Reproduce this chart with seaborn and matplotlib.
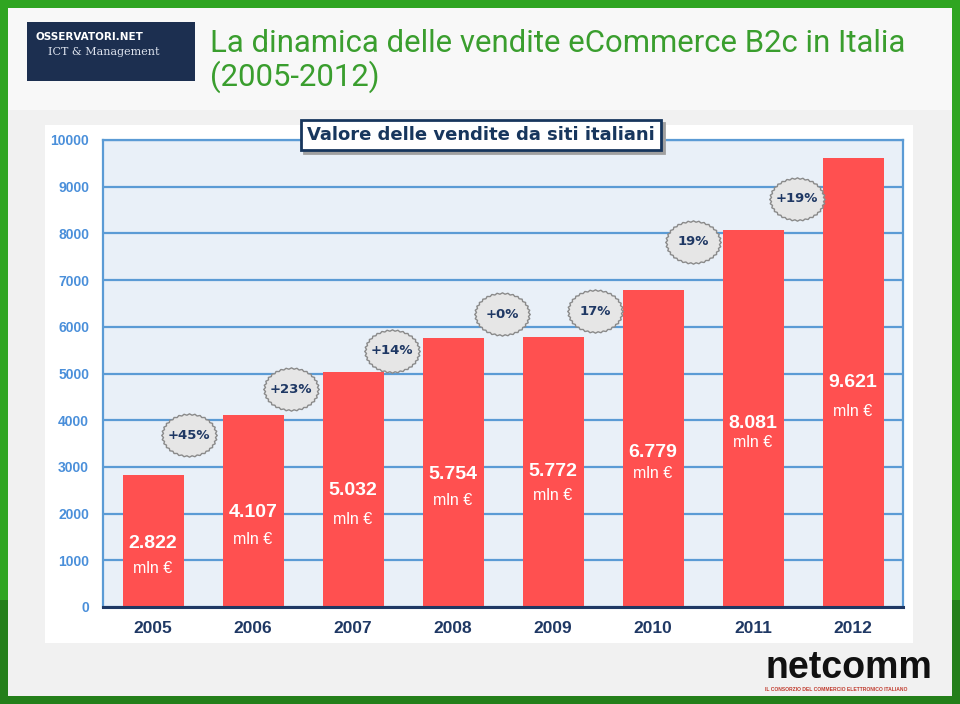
import numpy as np
import pandas as pd
import matplotlib
matplotlib.use("Agg")
import matplotlib.pyplot as plt
from matplotlib.path import Path
from matplotlib.patches import Rectangle
import seaborn as sns

# ---------------- data ----------------
years = ["2005", "2006", "2007", "2008", "2009", "2010", "2011", "2012"]
sales = [2822, 4107, 5032, 5754, 5772, 6779, 8081, 9621]
value_labels = ["2.822", "4.107", "5.032", "5.754", "5.772", "6.779", "8.081", "9.621"]
growth_labels = ["+45%", "+23%", "+14%", "+0%", "17%", "19%", "+19%"]
y_ticks = [0, 1000, 2000, 3000, 4000, 5000, 6000, 7000, 8000, 9000, 10000]

title_l1 = "La dinamica delle vendite eCommerce B2c in Italia"
title_l2 = "(2005-2012)"
legend_text = "Valore delle vendite da siti italiani"

# ---------------- layout (positions only) ----------------
label_y = [1370, 2013, 2484, 2827, 2912, 3298, 3940, 4797]
unit_y = [814, 1456, 1884, 2270, 2377, 2848, 3533, 4197]
badge_x = [0.36, 1.38, 2.39, 3.49, 4.42, 5.40, 6.44]
badge_y = [3683, 4668, 5482, 6274, 6338, 7816, 8737]

BAR = "#FF5050"
GRID = "#5B9BD5"
NAVY = "#1F3864"
TICKBLUE = "#4A8FDA"

sns.set_theme(style="white")
plt.rcParams["font.family"] = ["DejaVu Sans"]

W, H = 960, 704
fig = plt.figure(figsize=(9.6, 7.04), dpi=100)

def px_rect(x0, y0, x1, y1, z=0, **kw):
    r = Rectangle((x0 / W, 1 - y1 / H), (x1 - x0) / W, (y1 - y0) / H,
                  transform=fig.transFigure, zorder=z, **kw)
    fig.patches.append(r)
    return r

# frame / background
px_rect(0, 0, 960, 704, facecolor="#2FA521", edgecolor="none")
px_rect(0, 600, 960, 704, facecolor="#247F1A", edgecolor="none")
px_rect(8, 8, 952, 696, facecolor="#F1F1F1", edgecolor="none")
px_rect(8, 8, 952, 110, facecolor="#F8F8F8", edgecolor="none")
px_rect(45, 125, 913, 643, facecolor="white", edgecolor="none")

# Osservatori logo
px_rect(27, 22, 195, 81, z=1, facecolor="#1C2F50", edgecolor="none")
fig.text(36 / W, 1 - 40 / H, "OSSERVATORI.NET", color="white", fontsize=7.5,
         fontweight="bold", family="DejaVu Sans", va="baseline", zorder=2)
fig.text(48 / W, 1 - 55 / H, "ICT & Management", color="#DDE3EE", fontsize=8,
         family="DejaVu Serif", va="baseline", zorder=2)

# title
fig.text(210 / W, 1 - 52 / H, title_l1, color="#3A9E2E", fontsize=22.4,
         family="Roboto", va="baseline")
fig.text(210 / W, 1 - 86 / H, title_l2, color="#3A9E2E", fontsize=22.4,
         family="Roboto", va="baseline")

# netcomm logo
fig.text(765 / W, 1 - 678 / H, "netcomm", color="#111111", fontsize=27,
         family="Liberation Sans", fontweight="bold", va="baseline")
fig.text(765 / W, 1 - 691 / H, "IL CONSORZIO DEL COMMERCIO ELETTRONICO ITALIANO",
         color="#C0392B", fontsize=3.6, family="Liberation Sans",
         fontweight="bold", va="baseline")

# ---------------- chart ----------------
ax = fig.add_axes([103 / W, 1 - 607 / H, 800 / W, 467 / H])
ax.set_zorder(5)
ax.set_facecolor("#E9F0F8")
df = pd.DataFrame({"year": years, "sales": sales})
sns.barplot(data=df, x="year", y="sales", color=BAR, saturation=1,
            width=0.61, ax=ax, zorder=3, linewidth=0, edgecolor="none")

ax.set_xlim(-0.5, 7.5)
ax.set_ylim(0, 10000)
ax.set_yticks(y_ticks)
ax.set_yticklabels([str(t) for t in y_ticks])
ax.set_xlabel("")
ax.set_ylabel("")
ax.yaxis.grid(True, color=GRID, linewidth=1.6, zorder=1)
ax.set_axisbelow(True)
for side in ["left", "top", "right"]:
    ax.spines[side].set_color(GRID)
    ax.spines[side].set_linewidth(1.6)
ax.spines["bottom"].set_color(NAVY)
ax.spines["bottom"].set_linewidth(2.2)
ax.spines["bottom"].set_zorder(5)

ax.tick_params(axis="y", colors=GRID, length=4, width=1.4, pad=6,
               labelcolor=TICKBLUE)
for lab in ax.get_yticklabels():
    lab.set_fontweight("bold")
    lab.set_family("Liberation Sans")
    lab.set_fontsize(10)
ax.set_xticks(range(len(years)))
ax.set_xticks(np.arange(-0.5, len(years), 1.0), minor=True)
ax.tick_params(axis="x", which="major", length=0, pad=10, labelcolor=NAVY)
ax.tick_params(axis="x", which="minor", length=6, width=2, color=NAVY,
               direction="out")
for lab in ax.get_xticklabels():
    lab.set_fontweight("bold")
    lab.set_family("Liberation Sans")
    lab.set_fontsize(12.5)

# value labels in bars
for i, (vl, ly, uy) in enumerate(zip(value_labels, label_y, unit_y)):
    ax.text(i, ly, vl, color="white", fontsize=14, fontweight="bold",
            family="Liberation Sans", ha="center", va="center", zorder=6)
    ax.text(i, uy, "mln \u20ac", color="white", fontsize=11.5,
            family="Liberation Sans", ha="center", va="center", zorder=6)

# scalloped badges
n = 64
t = np.linspace(0, 2 * np.pi, n, endpoint=False)
r = np.where(np.arange(n) % 2 == 0, 1.0, 0.94)
verts = np.column_stack([r * np.cos(t), 0.78 * r * np.sin(t)])
verts = np.vstack([verts, verts[:1]])
codes = [Path.MOVETO] + [Path.LINETO] * (n - 1) + [Path.CLOSEPOLY]
badge = Path(verts, codes)
ax.scatter(badge_x, badge_y, marker=badge, s=1600, facecolor="#E6E6E6",
           edgecolor="#8A8A8A", linewidth=1.0, zorder=7, clip_on=False)
for bx, by, gl in zip(badge_x, badge_y, growth_labels):
    ax.text(bx, by, gl, color=NAVY, fontsize=9.5, fontweight="bold",
            ha="center", va="center", zorder=8)

# legend-like box with shadow
fig.text(484 / W, 1 - 138 / H, legend_text, color="#9A9A9A", fontsize=13,
         fontweight="bold", ha="center", va="center", zorder=9, alpha=0.0,
         bbox=dict(boxstyle="square,pad=0.35", facecolor="#A0A0A0",
                   edgecolor="#A0A0A0", linewidth=2))
fig.text(481 / W, 1 - 135 / H, legend_text, color="#17365D", fontsize=13,
         fontweight="bold", ha="center", va="center", zorder=10,
         bbox=dict(boxstyle="square,pad=0.35", facecolor="white",
                   edgecolor="#17365D", linewidth=2))

fig.savefig("out.png", dpi=100)
